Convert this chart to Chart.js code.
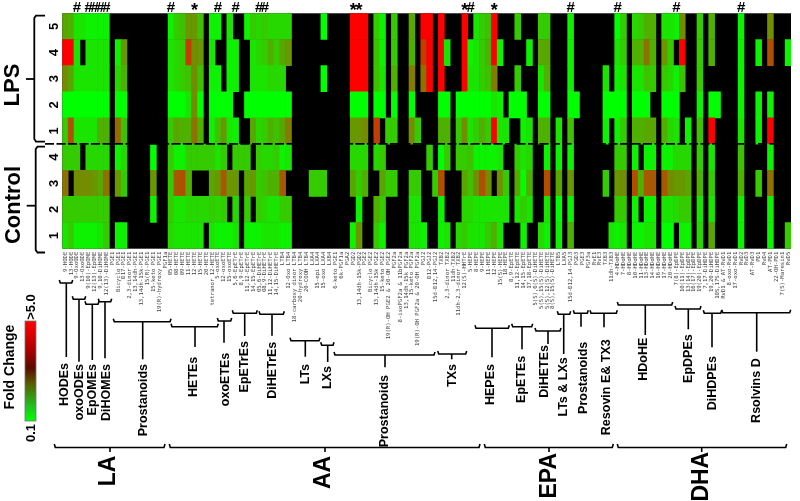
<!DOCTYPE html>
<html><head><meta charset="utf-8">
<style>html,body{margin:0;padding:0;background:#fff}canvas{display:block;filter:blur(0.45px)}</style>
<script src="https://cdn.jsdelivr.net/npm/chart.js@4"></script>
</head><body><canvas id="c" width="800" height="501"></canvas>
<script>
const N = null;
const compounds = ["9-HODE","13-HODE","9-OxoODE","13-OxoODE","9(10)-EpOME","12(13)-EpOME","9,10-DiHOME","12(13)-DiHOME","PGE1","Bicyclo PGE1",
"D17-PGE1","2,3-dinor PGE1","13,14dh-PGE1","13,14dh-15k-PGE1","15(R)-PGE1","15-keto PGE1","19(R)-hydroxy PGE1","PGF1a","05-HETE","08-HETE",
"09-HETE","11-HETE","12-HETE","15-HETE","20-HETE","tetranor 12-HETE","5-oxoETE","12-oxoETE","15-oxoETE","5,6-EpETrE",
"8,9-EpETrE","11,12-EpETrE","14,15-EpETrE","05,6-DiHETrE","08,9-DiHETrE","11,12-DiHETrE","14,15-DiHETrE","LTB4","12-Oxo LTB4","18-carboxy dinor LTB4",
"20-hydroxy LTB4","20-COOH LTB4","LXA4","15-epi LXA4","15-oxo LXA4","LXB4","6-keto PGE1","6k-PGF1a","PGA2","PGD2",
"13,14dh-15k-PGD2","PGE2","Bicyclo PGE2","13,14dh-15k PGE2","15-keto PGE2","19(R)-OH PGE2 & 20-OH PGE2","PGF2a","8-isoPGF2a & 11bPGF2a","13,14dh-15k PGF2a","15-keto PGF2a",
"19(R)-OH PGF2a & 20-OH PGF2a","PGJ2","D12-PGJ2","15d-D12,14-PGJ2","TXB2","2,3-dinor TXB2","11dh-TXB2","11dh-2,3-dinor TXB2","12(S)-HHTrE","5-HEPE",
"8-HEPE","9-HEPE","11-HEPE","12-HEPE","15(S)-HEPE","18-HEPE","8,9-EpETE","11,12-EpETE","14,15-EpETE","17,18-EpETE",
"5(S),6(S)-DiHETE","5(S),15(S)-DiHETE","5(S),12(S)-DiHETE","8(S),15(S)-DiHETE","LTB5","LXA5","15d-D12,14-PGJ3","PGD3","PGE3","PGF3a",
"RvE1","RvE3","TXB3","11dh-TXB3","4-HDoHE","7-HDoHE","8-HDoHE","10-HDoHE","11-HDoHE","13-HDoHE",
"14-HDoHE","16-HDoHE","17-HDoHE","20-HDoHE","7(8)-EpDPE","10(11)-EpDPE","13(14)-EpDPE","16(17)-EpDPE","19(20)-EpDPE","7,17-DiHDPE",
"19,20-DiHDPE","10S,17S-DiHDPE","RvD1 & AT-RvD1","8-oxo-RvD1","17-oxo-RvD1","RvD2","RvD3","AT-RvD3","PD1","RvD4",
"AT-PD1","22-OH-PD1","7(S)-Maresin1","RvD5"];
const rowLabels = ["1","2","3","4","1","2","3","4","5"];
const lps5 = [1.8,1.6,.6,.6,.35,.35,.35,.35,N,N,
N,N,N,N,N,N,N,N,.35,1.1,
1.3,2.1,2.1,1.3,N,.35,.35,N,.6,N,
N,.35,1.1,.85,1.1,.85,.85,.85,.85,N,
N,N,N,N,.1,N,N,N,N,5,
5,5,N,1.1,.35,N,1.1,N,N,1.8,
N,5,5,N,5,N,N,N,5,N,
.6,1.1,1.3,5,N,N,N,1.1,N,N,
N,1.1,1.1,N,N,N,.35,N,N,N,
N,N,N,N,.1,1.1,N,.85,1.1,1.6,
1.6,N,.6,.6,.35,2.3,N,N,1.1,N,
1.6,N,N,N,N,.35,N,N,N,N,
2.3,N,N,N];
const lps4 = [5,5,.6,N,.6,.6,.6,.6,N,.35,
2.1,N,N,N,N,N,N,N,.6,.85,
1.1,3.8,2.3,2.1,N,.6,N,N,.35,.35,
N,N,.6,.85,1.1,1.6,1.1,1.8,2.1,N,
N,N,N,N,N,N,N,N,N,5,
5,5,N,1.3,.35,N,1.1,N,N,1.6,
N,3.8,5,N,5,.6,N,N,5,.35,
.6,1.1,1.6,5,.35,N,N,N,N,.35,
N,1.8,1.8,N,N,N,.35,N,N,N,
N,N,N,N,.6,1.1,N,1.6,1.6,2.8,
1.6,N,2.1,1.1,N,5,N,N,1.1,N,
1.6,N,N,N,N,.35,N,N,.35,N,
3.5,N,N,.35];
const lps3 = [2.3,1.8,.6,.6,.6,.6,.6,.6,N,.85,
1.6,N,N,N,N,N,N,N,.6,.85,
1.1,1.3,2.3,1.3,N,.35,.35,N,.35,.35,
N,N,.6,.6,.6,.85,.85,.85,N,N,
N,N,N,N,.1,N,N,N,N,5,
5,5,N,1.3,.6,N,1.6,N,N,2.6,
N,2.8,5,N,5,N,N,N,5,.6,
.6,1.1,1.3,2.6,N,N,N,1.1,N,N,
N,.6,1.6,N,N,N,.35,N,N,N,
N,N,.6,N,.35,.6,N,.6,.6,1.3,
1.1,N,1.1,.85,.35,1.3,N,N,1.1,N,
N,N,N,N,N,.35,N,N,N,N,
N,N,N,N];
const lps2 = [.1,.1,.1,.1,.1,.1,.1,.1,N,.1,
.1,N,N,N,N,N,N,N,.1,.1,
.1,.6,2.3,.1,N,.1,.1,.1,.1,N,
N,.1,.1,.1,.1,.1,.1,.1,.1,N,
N,N,N,N,N,N,N,N,N,.1,
.1,.1,N,.1,.1,N,.1,N,N,.1,
N,N,N,N,.1,.1,N,.1,.1,.1,
.1,.1,.1,.6,.35,N,.1,.1,.1,N,
N,.1,.1,N,N,N,.1,.1,N,N,
N,N,.1,.1,.1,.1,N,.1,.1,.1,
N,N,.1,.1,.1,N,N,N,.35,N,
.1,.1,N,N,N,.35,N,N,.35,N,
.35,N,N,N];
const lps1 = [1.1,3.5,.6,.6,.6,.6,1.6,1.6,N,3,
1.3,N,N,N,N,N,N,N,1.1,1.8,
1.6,1.6,2.8,1.6,N,.35,1.3,2.1,.6,.35,
N,N,1.8,.85,1.1,1.6,1.3,1.8,2.6,N,
N,N,N,N,N,N,N,N,N,2.1,
2.1,2.3,N,3.8,N,1.1,1.1,N,N,2.3,
1.1,N,N,N,1.6,1.6,N,1.1,2.3,.6,
1.1,1.6,1.1,5,.6,.6,N,N,.35,.6,
N,1.6,1.6,N,.6,N,1.3,N,N,N,
N,N,.35,N,.35,1.1,N,1.6,1.6,1.8,
1.8,N,1.6,.85,.6,N,.35,N,1.3,N,
5,N,N,N,N,.6,N,N,.35,N,
5,N,N,N];
const ctl4 = [1.1,1.1,1.1,N,.85,.85,.85,.85,N,.35,
.85,N,N,N,N,.1,N,N,1.1,.35,
.35,1.1,1.1,1.1,1.1,1.1,.6,1.1,N,1.1,
1.1,1.1,N,1.1,.85,.85,1.1,.35,.6,N,
N,N,N,N,N,N,N,N,N,.85,
.85,.85,N,.85,1.1,N,N,N,N,N,
N,N,1.1,N,.1,1.1,N,1.1,1.1,1.3,
.35,.35,.35,.35,.6,N,N,1.1,.6,.85,
N,N,.35,N,.35,N,.35,N,N,N,
N,N,N,N,1.1,1.1,N,.35,N,.35,
.35,N,.35,.35,.85,.85,.85,N,1.1,N,
.6,N,N,N,N,1.3,N,N,N,N,
.35,N,N,N];
const ctl3 = [2.8,N,2.3,2.3,2.3,2.1,1.8,2.8,N,2.1,
1.1,N,N,N,N,2.1,N,N,1.1,3.3,
3.5,1.6,N,N,N,1.8,2.1,3.3,2.1,2.1,
N,1.8,2.1,1.1,1.3,1.6,1.6,3.3,N,N,
N,N,1.1,1.1,1.1,N,N,N,N,1.8,
1.1,1.6,N,N,1.8,1.1,1.1,N,N,1.1,
1.1,N,N,1.1,3.5,N,N,N,1.8,1.3,
2.3,3.5,2.3,N,2.3,1.1,N,1.8,.1,1.6,
N,N,3.5,N,1.8,N,2.1,N,N,N,
N,N,1.1,N,2.1,2.3,N,3.5,1.6,3.3,
3.3,N,3.3,2.3,2.1,2.1,1.8,N,1.6,N,
1.1,N,N,N,N,1.6,N,N,1.1,N,
2.8,N,N,N];
const ctl2 = [1.1,1.1,1.1,1.1,1.1,1.1,1.1,1.1,N,N,
N,N,N,N,N,.35,N,N,1.1,.6,
.6,.85,.85,.85,.85,1.1,.85,1.1,N,.85,
N,1.1,N,1.1,.85,.6,.6,1.1,1.1,N,
N,N,N,N,N,N,N,N,N,N,
.35,N,N,1.6,1.1,N,N,N,N,.6,
.6,N,N,N,.35,N,N,N,.85,.85,
.6,.6,.6,.6,.6,.6,N,.6,1.1,.6,
N,N,.6,N,.1,N,.35,N,N,N,
N,N,N,N,1.1,1.1,N,.35,N,.35,
.35,N,.6,.6,.85,1.1,1.1,N,.6,N,
.6,N,N,N,N,.35,N,N,N,N,
.35,N,N,N];
const ctl1 = [.6,1.1,.35,.35,.35,.35,.6,1.1,N,.35,
.35,N,N,N,N,N,N,N,.85,.6,
.6,.6,.6,.6,N,.6,.35,.35,.35,.6,
N,.35,.35,.35,.6,.6,.6,.35,.35,N,
N,N,N,N,N,N,N,N,N,.35,
2.1,N,N,1.1,.35,N,N,N,N,.6,
.6,.35,N,N,.35,.6,N,.85,1.1,.6,
.6,.6,1.1,1.6,.6,N,N,N,.35,N,
N,.85,.35,N,.35,N,1.6,N,N,N,
N,N,N,.6,.35,.6,N,.35,.35,.6,
.6,N,.1,.1,N,.35,.35,N,.85,N,
1.8,N,N,N,N,.35,N,N,N,N,
.35,N,N,1.1];
const seriesRows = [ctl1,ctl2,ctl3,ctl4,lps1,lps2,lps3,lps4,lps5];
const seriesNames = ["Control 1","Control 2","Control 3","Control 4","LPS 1","LPS 2","LPS 3","LPS 4","LPS 5"];
const hashCols = [2,4,5,6,7,18,26,29,33,34,69,86,94,104,115];
const starCols = [22,49,50,68,73];

const minFold = 0.1, maxFold = 5;
function foldColor(v){
  const t = Math.min(1, Math.max(0, (v-minFold)/(maxFold-minFold)));
  return `rgb(${Math.round(255*t)},${Math.round(255*(1-t))},0)`;
}
// [label, bracket x1, x2, y, stem x, stem end, label x, label top]
const subgroups = [
["HODEs",59.3,72.7,283,66.3,357,65,363],
["oxoODEs",72.3,85.7,299.3,79,361.7,80,364],
["EpOMEs",85,99,304.3,92.3,360,92.3,364],
["DiHOMEs",98.3,111.7,301.7,105,358.3,106.7,364],
["Prostanoids",113.3,171,321.7,142.7,359.3,143.3,364],
["HETEs",171,218.3,326.7,195,347,193.3,356.7],
["oxoETEs",217.3,231.7,321,224,342.7,225.7,352.7],
["EpETrEs",232.3,257.3,313.3,244.7,336,245,341],
["DiHETrEs",259,284.3,314.3,272,335.7,272.3,341.7],
["LTs",290,320,340.7,305.3,356.7,306,364],
["LXs",320.7,334,345.3,327.7,362,327.7,366],
["Prostanoids",334,435,355,385,367.3,384.3,375],
["TXs",437.7,466.7,354,451.7,359.3,452.3,364],
["HEPEs",475,509.3,328.3,492,357.3,490.7,364],
["EpETEs",511.7,532.7,326.7,522,349.3,521.7,355.7],
["DiHETEs",535,561,331,548,344,545,345],
["LTs & LXs",557.3,570.7,314.3,563.7,354,563.3,357.3],
["Prostanoids",573.3,588.3,313.3,581,326.7,583.3,341.7],
["Resovin E& TX3",590,617.3,313.3,604,327.3,606.7,339.3],
["HDoHE",617.3,672.7,305,645.3,335,644,337.7],
["EpDPEs",675,701,309,688.3,329.3,688.3,334.3],
["DiHDPEs",703.3,721.7,313.3,712,347.3,712.7,356],
["Rsolvins D",721.7,790.7,312.7,756.7,351.7,756.7,358.3]
];
// [label, x1, x2, stem x, label x, label centre y]
const families = [
["LA",54.3,165,110,109,471],
["AA",169.3,480,325,324,472.5],
["EPA",484.3,613.3,549,549.5,475.8],
["DHA",617.3,786.7,701.7,702,476.7]
];
const FONT = '"Liberation Sans", Arial, sans-serif';

function vtext(ctx,str,x,y,font,align){
  ctx.save();ctx.translate(x,y);ctx.rotate(-Math.PI/2);
  ctx.font=font;ctx.textAlign=align||'center';ctx.textBaseline='middle';ctx.fillStyle='#000';
  ctx.fillText(str,0,0);ctx.restore();
}
function line(ctx,pts){
  ctx.beginPath();pts.forEach((p,i)=>i?ctx.lineTo(p[0],p[1]):ctx.moveTo(p[0],p[1]));ctx.stroke();
}
const backdrop = {id:'backdrop',beforeDatasetsDraw(chart){
  const a=chart.chartArea,c=chart.ctx;c.save();c.fillStyle='#000';
  c.fillRect(a.left,a.top,a.right-a.left,a.bottom-a.top);c.restore();
}};
const annotations = {id:'annotations',afterDraw(chart){
  const c=chart.ctx,x=chart.scales.x;
  c.save();c.strokeStyle='#000';c.fillStyle='#000';
  c.textAlign='center';c.textBaseline='middle';
  c.font='bold 15px '+FONT;
  hashCols.forEach(i=>c.fillText('#',x.getPixelForValue(i),8));
  c.font='bold 18px '+FONT;
  starCols.forEach(i=>c.fillText('*',x.getPixelForValue(i),11));
  c.save();c.lineWidth=1.7;c.setLineDash([9,2.5]);line(c,[[45,143.8],[791,143.8]]);c.restore();
  c.lineWidth=1.8;
  line(c,[[45,15.7],[36,15.7],[34.3,18],[34.3,139],[36,141.7],[45,141.7]]);
  line(c,[[34.3,79],[26,79]]);
  line(c,[[45,146.7],[37.5,146.7],[35.7,149],[35.7,250],[37.5,252.5],[45,252.5]]);
  line(c,[[35.7,205.7],[26.7,205.7]]);
  vtext(c,'LPS',13,85,'bold 22px '+FONT);
  vtext(c,'Control',14,205,'bold 22px '+FONT);
  subgroups.forEach(g=>{
    const [name,x1,x2,y,sx,se,lx,lt]=g;
    c.lineWidth=1.6;
    line(c,[[x1,y-3],[x1+1,y],[x2-1,y],[x2,y-3]]);
    line(c,[[sx,y],[sx,se]]);
    vtext(c,name,lx,lt,'bold 12.5px '+FONT,'right');
  });
  families.forEach(g=>{
    const [name,x1,x2,sx,lx,ly]=g;
    c.lineWidth=1.6;
    line(c,[[x1,444],[x1+1,447.5],[x2-1,447.5],[x2,444]]);
    line(c,[[sx,447.5],[sx,452]]);
    vtext(c,name,lx,ly,'bold 23px '+FONT);
  });
  const g=c.createLinearGradient(0,321,0,421);
  g.addColorStop(0,'#ff0000');g.addColorStop(.28,'#b00000');g.addColorStop(.47,'#5a0a00');
  g.addColorStop(.62,'#5a5a00');g.addColorStop(.85,'#20c020');g.addColorStop(1,'#00ff00');
  c.fillStyle=g;c.fillRect(25,321,11,100);
  c.lineWidth=.8;c.strokeStyle='#777';c.strokeRect(25,321,11,100);
  vtext(c,'>5.0',31,307,'bold 13px '+FONT);
  vtext(c,'0.1',31,433,'bold 13px '+FONT);
  vtext(c,'Fold Change',10.5,367,'bold 14px '+FONT);
  c.restore();
}};
new Chart(document.getElementById('c'),{
  type:'bar',
  plugins:[backdrop,annotations],
  data:{
    labels:compounds,
    datasets:seriesRows.map((vals,r)=>({
      label:seriesNames[r],
      data:vals.map(v=>v===null?null:[r,r+1]),
      backgroundColor:vals.map(v=>v===null?'rgba(0,0,0,0)':foldColor(v)),
      borderWidth:0,barPercentage:1,categoryPercentage:1,grouped:false
    }))
  },
  options:{
    responsive:false,animation:false,
    layout:{padding:{top:13.3,right:9,left:0,bottom:0}},
    plugins:{legend:{display:false},tooltip:{enabled:false},title:{display:false}},
    scales:{
      x:{type:'category',offset:true,
        grid:{display:false,drawTicks:false},border:{display:false},
        afterFit:s=>{s.height=501-248.7;},
        ticks:{autoSkip:false,minRotation:90,maxRotation:90,padding:3,color:'#444',
          font:{family:'"DejaVu Sans Mono", monospace',size:5.6}}
      },
      y:{type:'linear',min:0,max:9,
        grid:{display:false,drawTicks:false},border:{display:false},
        afterFit:s=>{s.width=62.3;},
        afterBuildTicks:s=>{s.ticks=rowLabels.map((_,i)=>({value:i+.5}));},
        ticks:{autoSkip:false,minRotation:90,maxRotation:90,crossAlign:'center',padding:4,color:'#000',
          font:{family:FONT,size:13,weight:'bold'},
          callback:v=>rowLabels[Math.floor(v)]}
      }
    }
  }
});
</script></body></html>
